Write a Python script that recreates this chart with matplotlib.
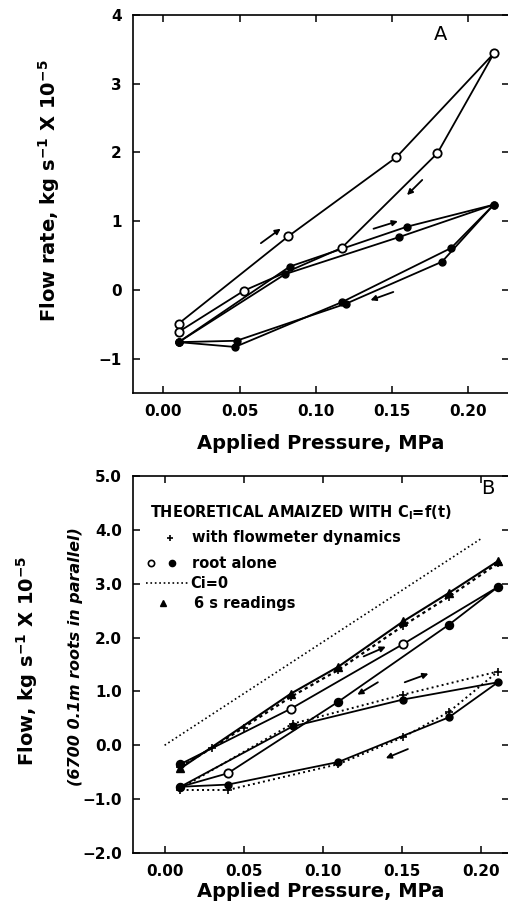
import matplotlib
matplotlib.use("Agg")
import matplotlib.pyplot as plt
from matplotlib.lines import Line2D

plt.rcParams['font.family'] = ['DejaVu Sans']
plt.rcParams['axes.unicode_minus'] = True
plt.rcParams['mathtext.default'] = 'regular'

# ---------------- Panel A data ----------------
a_open_x = [0.010, 0.082, 0.153, 0.217, 0.180, 0.117, 0.053, 0.010]
a_open_y = [-0.49, 0.78, 1.93, 3.44, 1.99, 0.61, -0.01, -0.61]

a_fill1_x = [0.010, 0.083, 0.160, 0.217, 0.189, 0.117, 0.047, 0.010]
a_fill1_y = [-0.76, 0.34, 0.92, 1.24, 0.61, -0.18, -0.83, -0.76]

a_fill2_x = [0.010, 0.080, 0.155, 0.217, 0.183, 0.120, 0.048, 0.010]
a_fill2_y = [-0.76, 0.23, 0.77, 1.24, 0.41, -0.20, -0.74, -0.76]

# ---------------- Panel B data ----------------
b_ci0_x = [0.0, 0.20]
b_ci0_y = [0.0, 3.83]

b_tri_x = [0.010, 0.080, 0.110, 0.151, 0.180, 0.211]
b_tri_y = [-0.43, 0.96, 1.46, 2.30, 2.83, 3.42]

b_flow_up_x = [0.010, 0.030, 0.050, 0.080, 0.110, 0.151, 0.180, 0.211]
b_flow_up_y = [-0.40, -0.05, 0.33, 0.90, 1.40, 2.22, 2.76, 3.38]

b_root_up_x = [0.010, 0.080, 0.151, 0.211, 0.180, 0.110, 0.040, 0.010]
b_root_up_y = [-0.35, 0.68, 1.88, 2.94, 2.24, 0.81, -0.52, -0.77]
b_root_up_open = [False, True, True, False, False, False, True, False]

b_root_lo_x = [0.010, 0.081, 0.151, 0.211, 0.180, 0.110, 0.040, 0.010]
b_root_lo_y = [-0.77, 0.35, 0.85, 1.17, 0.52, -0.31, -0.73, -0.77]

b_flow_lo_x = [0.010, 0.081, 0.151, 0.211, 0.180, 0.151, 0.110, 0.040, 0.010]
b_flow_lo_y = [-0.80, 0.40, 0.94, 1.37, 0.62, 0.15, -0.35, -0.83, -0.83]

fig = plt.figure(figsize=(5.08, 9.10), dpi=100)
W, H = 508.0, 910.0

def add_ax(l, r, t, b):
    return fig.add_axes([l / W, 1 - b / H, (r - l) / W, (b - t) / H])

axA = add_ax(133, 509, 15, 393)
axB = add_ax(133, 509, 476, 853)

lw = 1.3
fs_tick = 11
fs_lab = 14

def style(ax):
    for s in ax.spines.values():
        s.set_linewidth(1.2)
    ax.tick_params(direction='in', length=5, width=1.1, top=True, right=True,
                   labelsize=fs_tick)
    ax.tick_params(axis='x', pad=8)
    ax.tick_params(axis='y', pad=8)
    for t in ax.get_xticklabels() + ax.get_yticklabels():
        t.set_fontweight('bold')

def arrow(ax, x0, y0, x1, y1):
    ax.annotate('', xy=(x1, y1), xytext=(x0, y0),
                arrowprops=dict(arrowstyle='-|>', color='black', lw=1.3,
                                mutation_scale=8, shrinkA=0, shrinkB=0))

# ---------- Panel A ----------
axA.plot(a_fill1_x, a_fill1_y, '-', color='black', lw=lw, marker='o', ms=5,
         mfc='black', mec='black')
axA.plot(a_fill2_x, a_fill2_y, '-', color='black', lw=lw, marker='o', ms=5,
         mfc='black', mec='black')
axA.plot(a_open_x, a_open_y, '-', color='black', lw=lw, marker='o', ms=6,
         mfc='white', mec='black', mew=1.3)
axA.set_xlim(-0.02, 0.227)
axA.set_ylim(-1.5, 4)
axA.set_xticks([0.00, 0.05, 0.10, 0.15, 0.20])
axA.set_xticklabels(['0.00', '0.05', '0.10', '0.15', '0.20'])
axA.set_yticks([-1, 0, 1, 2, 3, 4])
axA.set_yticklabels(['\u22121', '0', '1', '2', '3', '4'])
style(axA)
axA.set_xlabel('Applied Pressure, MPa', fontsize=fs_lab, fontweight='bold')
axA.xaxis.set_label_coords(0.5, -0.108)
axA.text(-0.222, 0.534, r'Flow rate, kg s$^{-1}$ X 10$^{-5}$',
         transform=axA.transAxes, rotation=90, fontsize=fs_lab,
         fontweight='bold', ha='center', va='center')
axA.text(0.182, 3.71, 'A', fontsize=14, ha='center', va='center')
arrow(axA, 0.064, 0.68, 0.077, 0.89)
arrow(axA, 0.170, 1.60, 0.160, 1.38)
arrow(axA, 0.138, 0.89, 0.154, 1.00)
arrow(axA, 0.151, -0.03, 0.136, -0.15)

# ---------- Panel B ----------
axB.plot(b_ci0_x, b_ci0_y, ':', color='black', lw=1.2)
axB.plot(b_flow_lo_x, b_flow_lo_y, ':', color='black', lw=1.4, marker='+',
         ms=6, mew=1.2)
axB.plot(b_flow_up_x, b_flow_up_y, linestyle=(0, (1.5, 1.5)), color='black',
         lw=1.6, marker='+', ms=6, mew=1.2)
axB.plot(b_tri_x, b_tri_y, 'none', marker='^', ms=6, color='black')
axB.plot(b_root_lo_x, b_root_lo_y, '-', color='black', lw=lw, marker='o', ms=5,
         mfc='black', mec='black')
axB.plot(b_root_up_x, b_root_up_y, '-', color='black', lw=lw)
for x, y, o in zip(b_root_up_x, b_root_up_y, b_root_up_open):
    axB.plot([x], [y], marker='o', ms=6 if o else 5.5,
             mfc='white' if o else 'black', mec='black', mew=1.3)

axB.set_xlim(-0.02, 0.218)
axB.set_ylim(-2.0, 5.0)
axB.set_xticks([0.00, 0.05, 0.10, 0.15, 0.20])
axB.set_xticklabels(['0.00', '0.05', '0.10', '0.15', '0.20'])
axB.set_yticks([-2, -1, 0, 1, 2, 3, 4, 5])
axB.set_yticklabels(['\u22122.0', '\u22121.0', '0.0', '1.0', '2.0', '3.0', '4.0', '5.0'])
style(axB)
axB.set_xlabel('Applied Pressure, MPa', fontsize=fs_lab, fontweight='bold')
axB.xaxis.set_label_coords(0.5, -0.076)
axB.text(-0.281, 0.51, r'Flow, kg s$^{-1}$ X 10$^{-5}$', transform=axB.transAxes,
         rotation=90, fontsize=fs_lab, fontweight='bold', ha='center', va='center')
axB.text(-0.152, 0.52, '(6700 0.1m roots in parallel)', transform=axB.transAxes,
         rotation=90, fontsize=11.5, style='italic', fontweight='bold',
         ha='center', va='center')
axB.text(0.944, 0.968, 'B', transform=axB.transAxes, fontsize=14,
         ha='center', va='center')
arrow(axB, 0.126, 1.65, 0.140, 1.83)
arrow(axB, 0.135, 1.17, 0.122, 0.94)
arrow(axB, 0.152, 1.17, 0.167, 1.33)
arrow(axB, 0.154, -0.07, 0.140, -0.24)

# legend block (manual)
T = axB.transAxes
lfs = 10.5
kw = dict(transform=T, fontsize=lfs, fontweight='bold', ha='left', va='center')
axB.text(0.045, 0.902, r'THEORETICAL AMAIZED WITH C$_{l}$=f(t)', **kw)
axB.plot([0.098], [0.836], marker='+', ms=5, mew=1.2, color='black', transform=T)
axB.text(0.157, 0.836, 'with flowmeter dynamics', **kw)
axB.plot([0.048], [0.769], marker='o', ms=4.5, mfc='white', mec='black', mew=1.2,
         transform=T)
axB.plot([0.104], [0.769], marker='o', ms=4.5, color='black', transform=T)
axB.text(0.157, 0.769, 'root alone', **kw)
axB.add_line(Line2D([0.035, 0.150], [0.716, 0.716], transform=T, ls=':',
                    color='black', lw=1.2))
axB.text(0.152, 0.716, 'Ci=0', **kw)
axB.plot([0.080], [0.663], marker='^', ms=5, color='black', transform=T)
axB.text(0.162, 0.663, '6 s readings', **kw)

fig.savefig('out.png', dpi=100)
